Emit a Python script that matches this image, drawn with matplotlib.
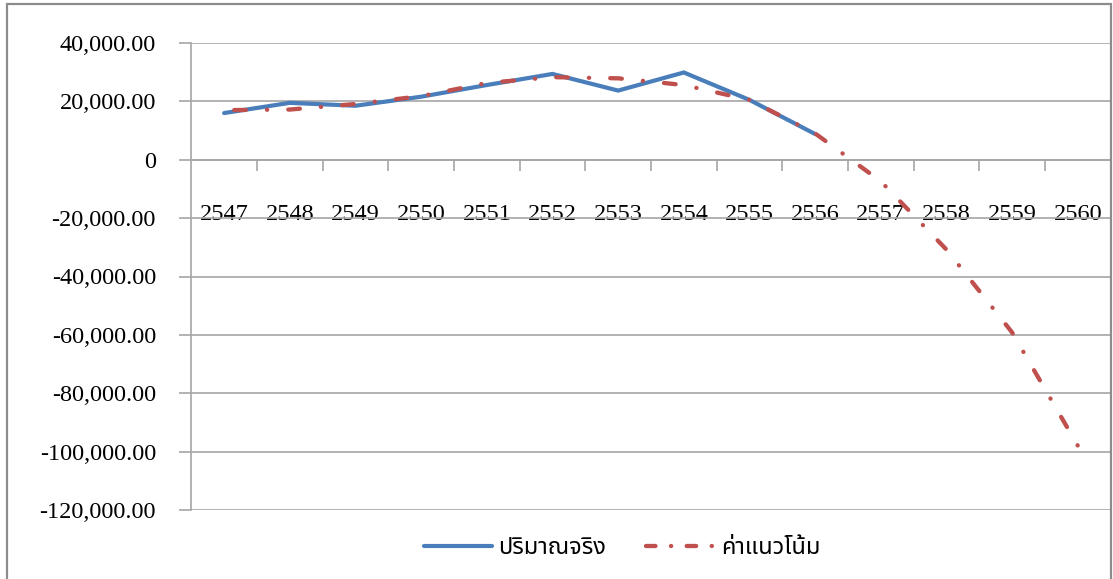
import matplotlib
matplotlib.use("Agg")
import matplotlib.pyplot as plt
from matplotlib import font_manager
from matplotlib.ft2font import FT2Font
from matplotlib.ticker import FixedLocator, FuncFormatter
from matplotlib.patches import Rectangle

# data
years = ["2547", "2548", "2549", "2550", "2551", "2552", "2553",
         "2554", "2555", "2556", "2557", "2558", "2559", "2560"]
actual = [16000, 19500, 18500, 21600, 25600, 29400, 23700,
          29900, 20500, 8800]
trend = [17000, 17200, 19100, 21800, 26300, 28300, 27900,
         25600, 20500, 9000, -7400, -30800, -59200, -98000]
y_ticks = [40000, 20000, 0, -20000, -40000, -60000, -80000, -100000, -120000]
legend_labels = ["ปริมาณจริง", "ค่าแนวโน้ม"]


def find_thai_font():
    # pick any installed font that has Thai glyphs
    preferred = ["Noto Sans Thai", "Noto Serif Thai", "Loma", "Garuda", "Tlwg Typo",
                 "Kinnari", "Norasi", "Sawasdee", "Waree", "Umpush"]
    found = {}
    for f in font_manager.fontManager.ttflist:
        try:
            cmap = FT2Font(f.fname).get_charmap()
        except Exception:
            continue
        if 0x0E1B in cmap and 0x0E21 in cmap:
            found.setdefault(f.name, f.fname)
    for name in preferred:
        if name in found:
            return name
    if found:
        return sorted(found)[0]
    return None


thai_font = find_thai_font()
serif = "Liberation Serif"
grid_col = "#a6a6a6"
blue = "#4a7ebb"
red = "#c0504d"
dash_seq = (2.7, 4.9, 0.05, 4.9)

fig = plt.figure(figsize=(11.13, 5.79), dpi=100)
ax = fig.add_axes([191.3 / 1113, 1 - 510 / 579, (1110.7 - 191.3) / 1113, (510 - 43) / 579])

x = list(range(len(years)))
ax.plot(x[:len(actual)], actual, color=blue, lw=3.0, solid_capstyle="round",
        solid_joinstyle="miter", label=legend_labels[0], zorder=3)
# offset picked so the dash-dot pattern finishes on a dot at 2560
ax.plot(x, trend, color=red, lw=3.1, dash_capstyle="round",
        linestyle=(10.2, dash_seq), label=legend_labels[1], zorder=4)

ax.set_xlim(-0.5, len(years) - 0.5)
ax.set_ylim(-120000, 40000)

# gridlines
ax.yaxis.set_major_locator(FixedLocator(y_ticks))
ax.yaxis.set_major_formatter(FuncFormatter(lambda v, p: "0" if v == 0 else f"{v:,.2f}"))
ax.grid(axis="y", color=grid_col, lw=1.2)
ax.set_axisbelow(True)

for s in ["top", "right"]:
    ax.spines[s].set_visible(False)
ax.spines["left"].set_color(grid_col)
ax.spines["left"].set_linewidth(1.2)
ax.spines["bottom"].set_position(("data", 0))
ax.spines["bottom"].set_color(grid_col)
ax.spines["bottom"].set_linewidth(1.2)

ax.tick_params(axis="y", length=8.5, width=1.2, color=grid_col, pad=17,
               labelsize=17.5)
for lab in ax.get_yticklabels():
    lab.set_fontfamily(serif)

# category labels sit well below the zero line, ticks between categories
ax.set_xticks(x)
ax.set_xticklabels(years, fontfamily=serif, fontsize=17.5)
ax.set_xticks([i + 0.5 for i in range(len(years))], minor=True)
ax.tick_params(axis="x", which="major", length=0, pad=32)
ax.tick_params(axis="x", which="minor", length=8, width=1.2, color=grid_col,
               direction="out")

leg_font = {"size": 17}
if thai_font:
    leg_font["family"] = [thai_font, "DejaVu Sans"]
leg = fig.legend(loc="center", bbox_to_anchor=(622 / 1113, 1 - 548 / 579),
                 ncol=2, frameon=False, prop=leg_font, handlelength=2.9,
                 handletextpad=0.25, columnspacing=1.7)
# legend sample: dash - dot - dash
leg.get_lines()[1].set_linestyle((0, (2.2, 3.6, 0.05, 3.6)))

# outer chart border
fig.patches.append(Rectangle((7 / 1113, -0.05), (1111 - 7) / 1113, 1.05 - 4 / 579,
                             transform=fig.transFigure, fill=False,
                             edgecolor="#8c8c8c", lw=1.6))

fig.savefig("out.png", dpi=100)
